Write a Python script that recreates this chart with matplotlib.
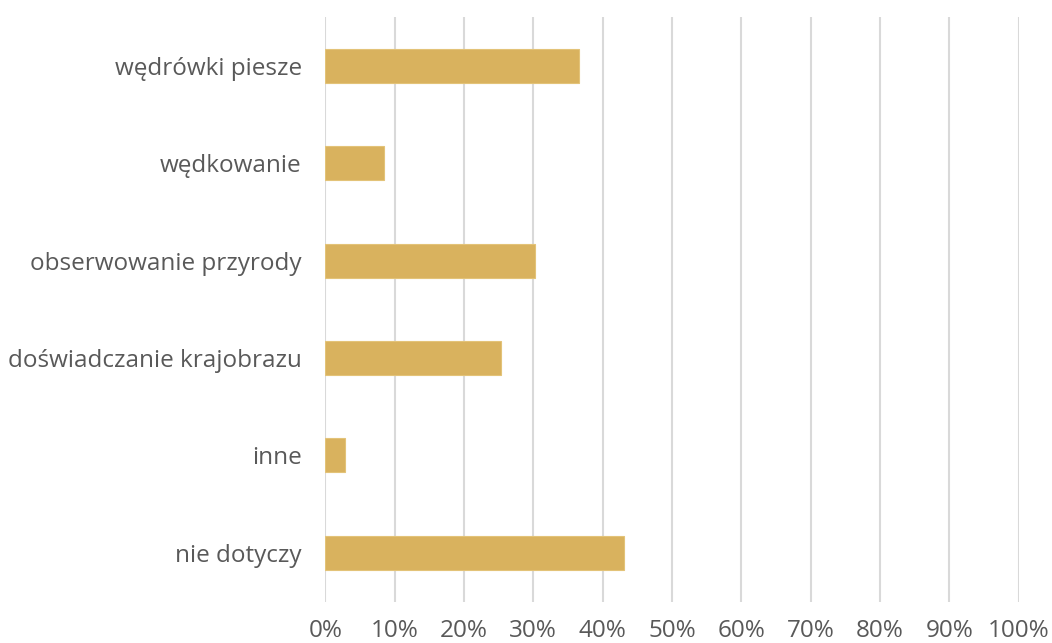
import matplotlib
matplotlib.use("Agg")
import matplotlib.pyplot as plt
from matplotlib.ticker import PercentFormatter

# Activities and share of respondents (%)
categories = [
    "wędrówki piesze",
    "wędkowanie",
    "obserwowanie przyrody",
    "doświadczanie krajobrazu",
    "inne",
    "nie dotyczy",
]
values = [36.6, 8.5, 30.3, 25.3, 2.8, 43.1]
x_ticks = [0, 10, 20, 30, 40, 50, 60, 70, 80, 90, 100]

plt.rcParams["font.family"] = ["Open Sans", "DejaVu Sans"]
text_color = "#595959"

fig = plt.figure(figsize=(10.52, 6.43), dpi=100)
ax = fig.add_axes([0.3092, 0.0645, 0.659, 0.909])

y_pos = list(range(len(categories)))
ax.barh(y_pos, values, height=0.35, color="#D9B25E", edgecolor="#E3C378",
        linewidth=0.8, zorder=3)

ax.set_ylim(len(categories) - 0.5, -0.5)
ax.set_xlim(0, 100)
ax.set_yticks(y_pos)
ax.set_yticklabels(categories)
ax.set_xticks(x_ticks)
ax.xaxis.set_major_formatter(PercentFormatter(decimals=0))

ax.grid(axis="x", color="#D9D9D9", linewidth=1.5, zorder=0)
for side in ax.spines.values():
    side.set_visible(False)
ax.tick_params(axis="both", length=0, labelsize=17.5, colors=text_color)
ax.tick_params(axis="x", pad=12.5)
ax.tick_params(axis="y", pad=17)

fig.savefig("out.png", dpi=100, facecolor="white")
